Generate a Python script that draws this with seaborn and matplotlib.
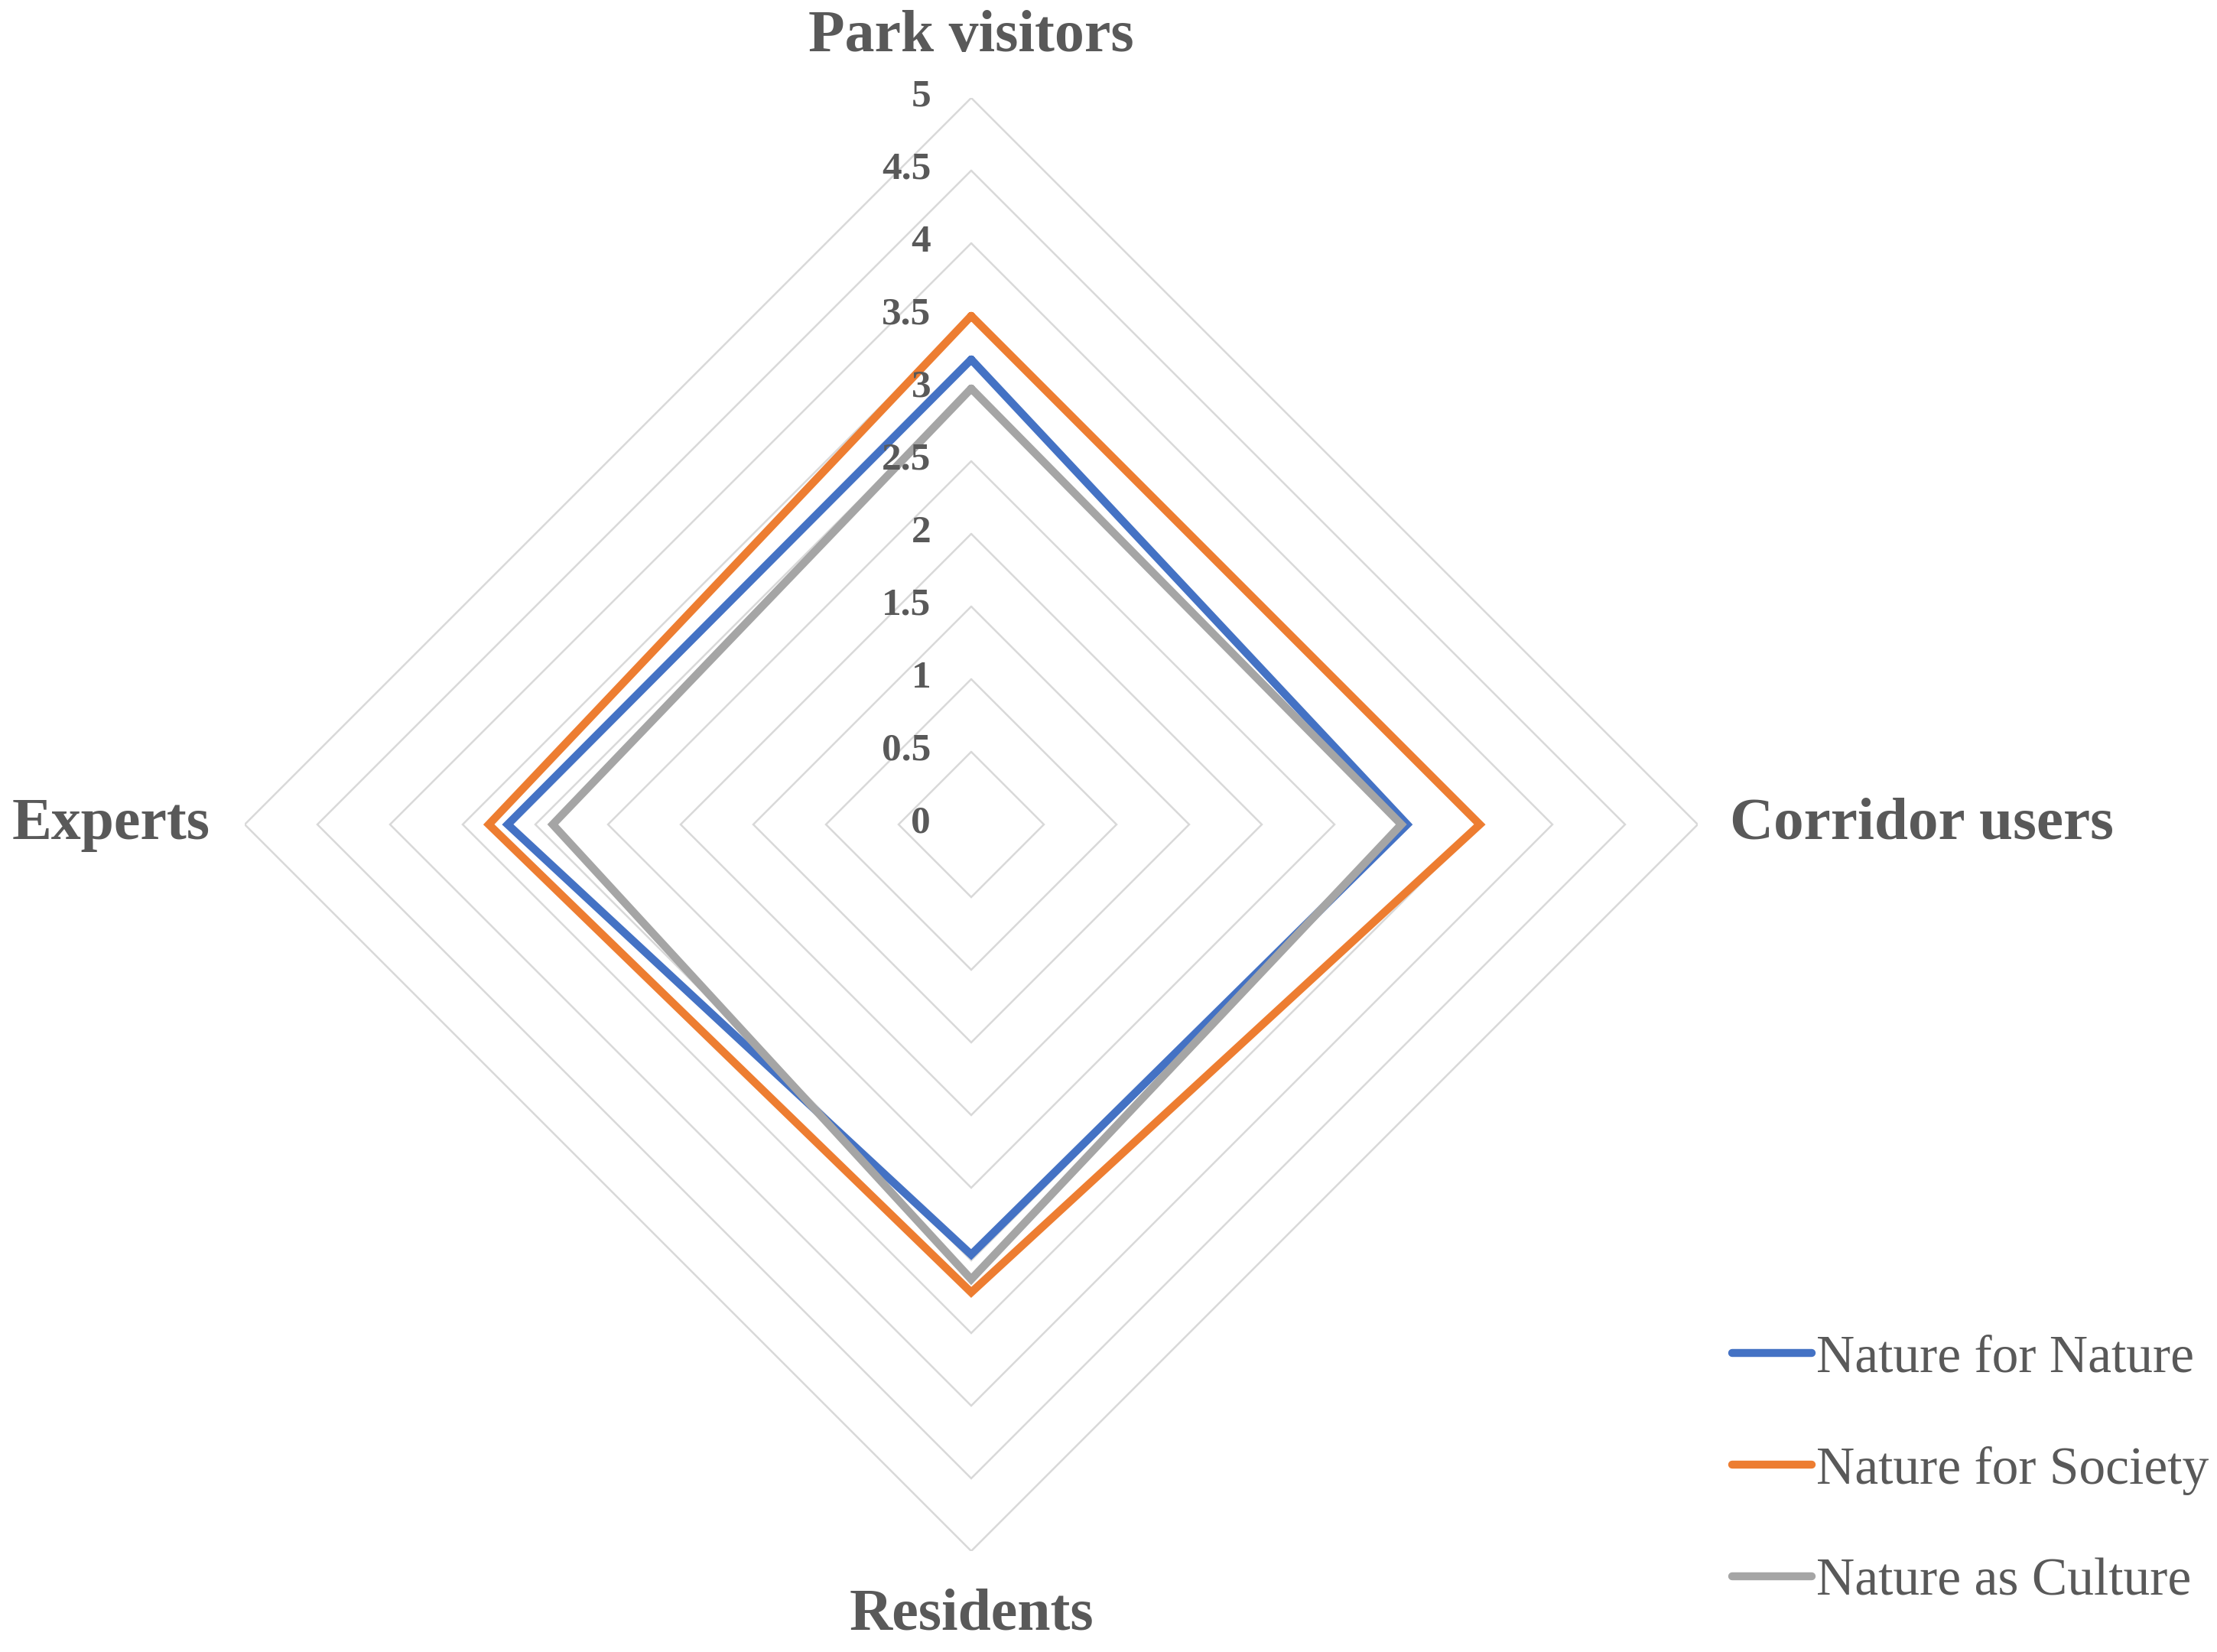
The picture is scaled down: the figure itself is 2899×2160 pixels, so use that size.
import numpy as np
import pandas as pd
import matplotlib.pyplot as plt
import seaborn as sns

categories = ["Park visitors", "Corridor users", "Residents", "Experts"]
series_names = ["Nature for Nature", "Nature for Society", "Nature as Culture"]
nature_for_nature = [3.2, 3.0, 2.96, 3.19]
nature_for_society = [3.5, 3.5, 3.22, 3.32]
nature_as_culture = [3.0, 2.96, 3.13, 2.88]
ring_values = [0, 0.5, 1, 1.5, 2, 2.5, 3, 3.5, 4, 4.5, 5]
ring_labels = ["0", "0.5", "1", "1.5", "2", "2.5", "3", "3.5", "4", "4.5", "5"]

colors = ["#4472C4", "#ED7D31", "#A5A5A5"]
text_color = "#595959"

sns.set_style("white")
plt.rcParams['font.family'] = ['Liberation Serif', 'DejaVu Serif']

# angles, closed loop
theta = np.linspace(0, 2 * np.pi, len(categories), endpoint=False)
theta_closed = np.append(theta, 2 * np.pi)

rows = []
for name, vals in zip(series_names, [nature_for_nature, nature_for_society, nature_as_culture]):
    vals_closed = list(vals) + [vals[0]]
    for k, (t, v) in enumerate(zip(theta_closed, vals_closed)):
        rows.append({"series": name, "theta": t, "value": v, "order": k})
df = pd.DataFrame(rows)

fig = plt.figure(figsize=(28.99, 21.6), dpi=100)
W, H = 2899, 2160
cx, cy, R = 1270, 1078, 950
ax = fig.add_axes([(cx - R) / W, (H - cy - R) / H, 2 * R / W, 2 * R / H], projection='polar')
ax.set_theta_zero_location('N')
ax.set_theta_direction(-1)
ax.set_ylim(0, 5)
ax.grid(False)
ax.spines['polar'].set_visible(False)
ax.set_xticks([])
ax.set_yticks([])
ax.patch.set_alpha(0)

# diamond gridlines
for r in ring_values[1:]:
    ax.plot(theta_closed, [r] * len(theta_closed), color="#D9D9D9", lw=1.8, zorder=1)

sns.lineplot(data=df, x="theta", y="value", hue="series", palette=colors, sort=False,
             estimator=None, lw=7.5, ax=ax, legend=False, zorder=3)
for line in ax.get_lines():
    line.set_solid_joinstyle('miter')

# radial tick labels
for r, lab in zip(ring_values, ring_labels):
    ax.annotate(lab, xy=(0, r), xytext=(-38, 1), textcoords='offset points',
                ha='right', va='center', fontsize=37, fontweight='bold', color=text_color)

# category labels
ax.text(0, 5.42, categories[0], ha='center', va='center', fontsize=56, fontweight='bold', color=text_color)
ax.text(np.pi / 2, 5.22, categories[1], ha='left', va='center', fontsize=57, fontweight='bold', color=text_color)
ax.text(np.pi, 5.44, categories[2], ha='center', va='center', fontsize=56, fontweight='bold', color=text_color)
ax.text(3 * np.pi / 2, 5.24, categories[3], ha='right', va='center', fontsize=56, fontweight='bold', color=text_color)

handles = [plt.Line2D([], [], color=c, lw=7.5) for c in colors]
fig.legend(handles, series_names, loc='upper left', bbox_to_anchor=(2265 / W, 1 - 1745 / H),
           frameon=False, fontsize=50, handlelength=1.5, handletextpad=0.08,
           labelspacing=1.18, borderpad=0, borderaxespad=0, labelcolor=text_color)

fig.savefig("out.png", dpi=100, facecolor="white")
